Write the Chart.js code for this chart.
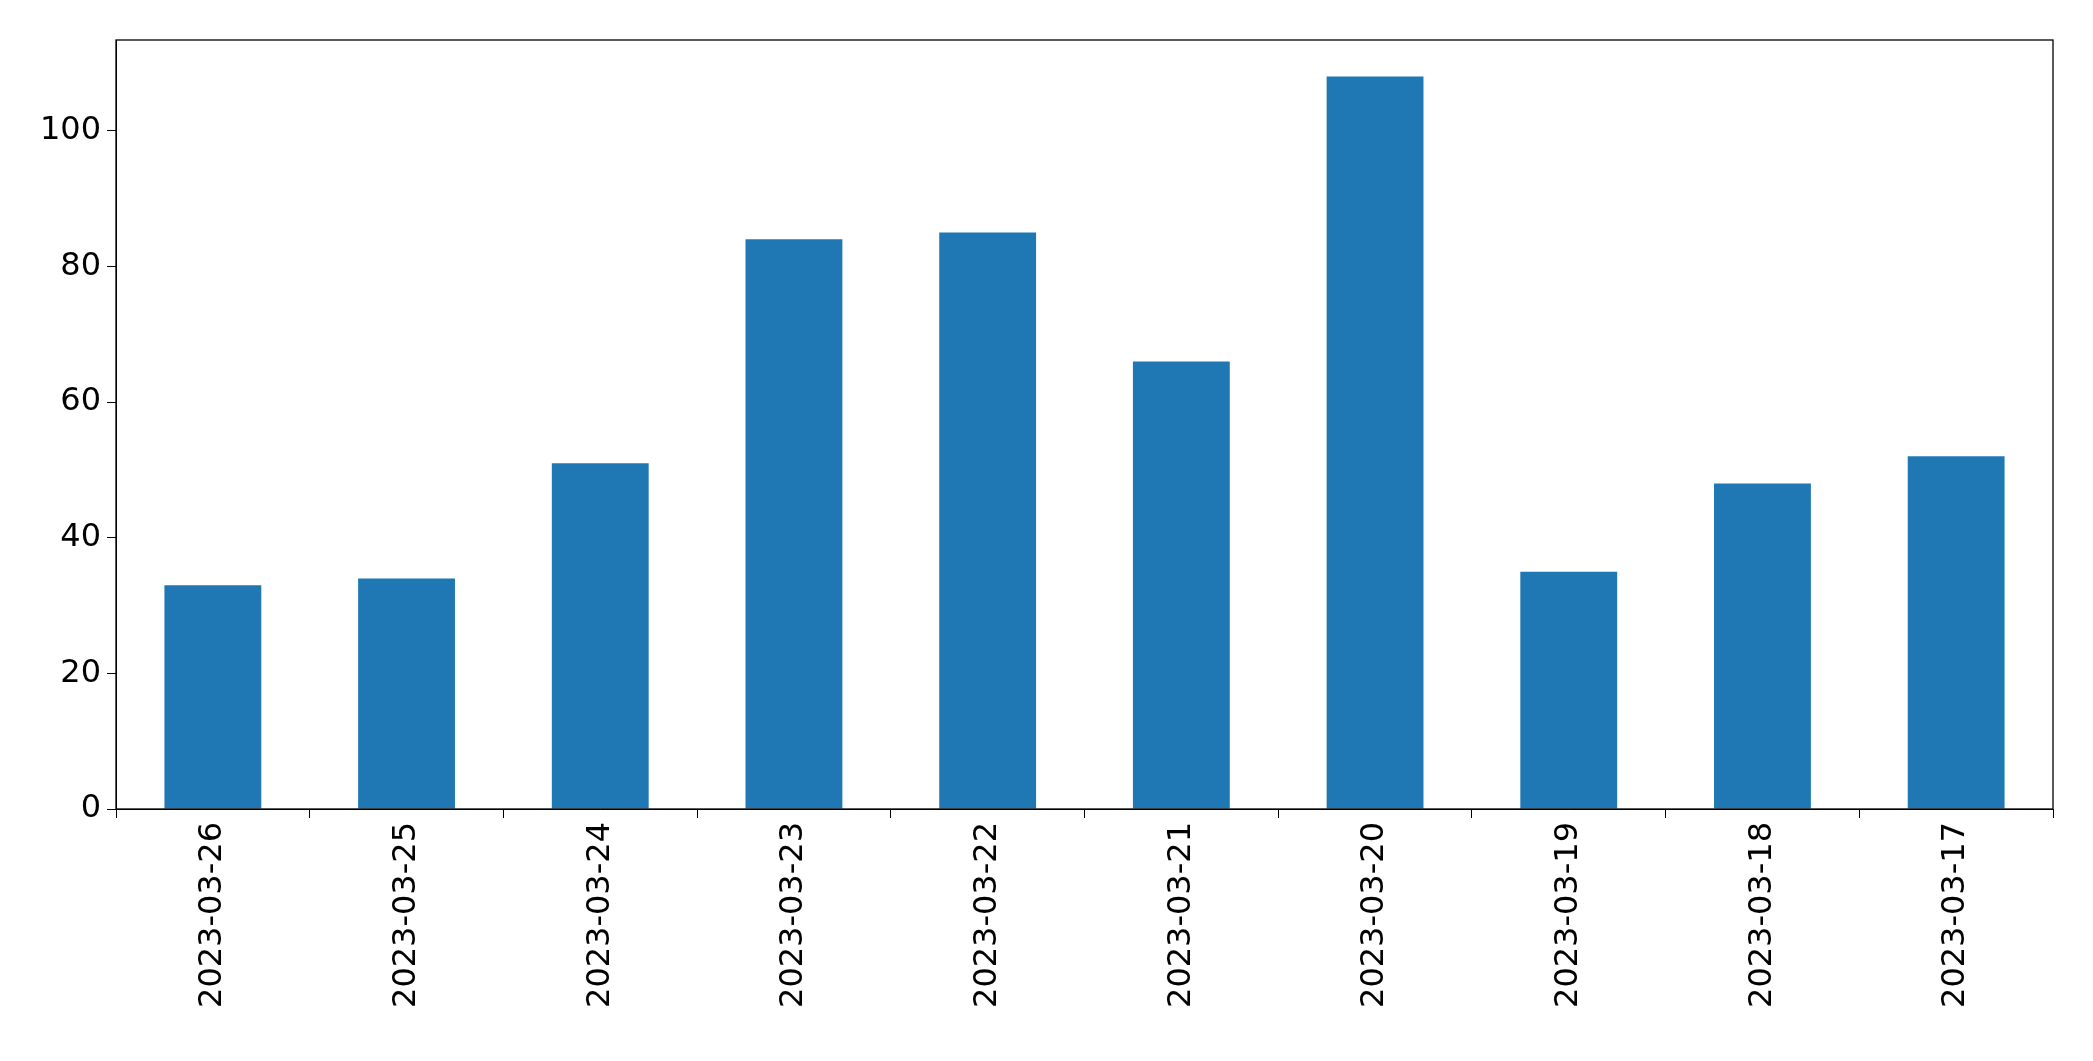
<!DOCTYPE html>
<html>
<head>
<meta charset="utf-8">
<script src="https://cdn.jsdelivr.net/npm/chart.js@4"></script>
<style>
  body { margin: 0; background: #fff; }
</style>
</head>
<body>
<canvas id="chart" width="2093" height="1061"></canvas>
<script>
const dates = ['2023-03-26', '2023-03-25', '2023-03-24', '2023-03-23', '2023-03-22',
               '2023-03-21', '2023-03-20', '2023-03-19', '2023-03-18', '2023-03-17']
const counts = [33, 34, 51, 84, 85, 66, 108, 35, 48, 52]

// cadre complet autour de la zone du graphique
const frame = {
    id: 'frame',
    afterDraw(chart) {
        const { ctx, chartArea: a } = chart
        ctx.save()
        ctx.strokeStyle = '#000'
        ctx.lineWidth = 1.3
        ctx.strokeRect(a.left, a.top, a.right - a.left, a.bottom - a.top)
        ctx.restore()
    }
}

const tickFont = { family: 'DejaVu Sans', size: 32 }

new Chart(document.getElementById('chart'), {
    type: 'bar',
    data: {
        labels: dates,
        datasets: [{ data: counts, backgroundColor: '#1f77b4', categoryPercentage: 1, barPercentage: 0.5 }]
    },
    options: {
        responsive: false,
        animation: false,
        layout: { padding: { top: 40, right: 40, left: 0, bottom: 0 } },
        plugins: { legend: { display: false }, tooltip: { enabled: false } },
        scales: {
            x: {
                grid: { drawOnChartArea: false, tickLength: 9, color: '#000' },
                border: { color: '#000' },
                ticks: { font: tickFont, color: '#000', minRotation: 90, maxRotation: 90, padding: 4 },
                afterFit: s => { s.height = 252 }
            },
            y: {
                min: 0, max: 113.4,
                grid: { drawOnChartArea: false, tickLength: 9, color: '#000' },
                border: { color: '#000' },
                ticks: { font: tickFont, color: '#000', stepSize: 20, padding: 6,
                         callback: v => v % 20 === 0 ? v : null },
                afterFit: s => { s.width = 116 }
            }
        }
    },
    plugins: [frame]
})
</script>
</body>
</html>
